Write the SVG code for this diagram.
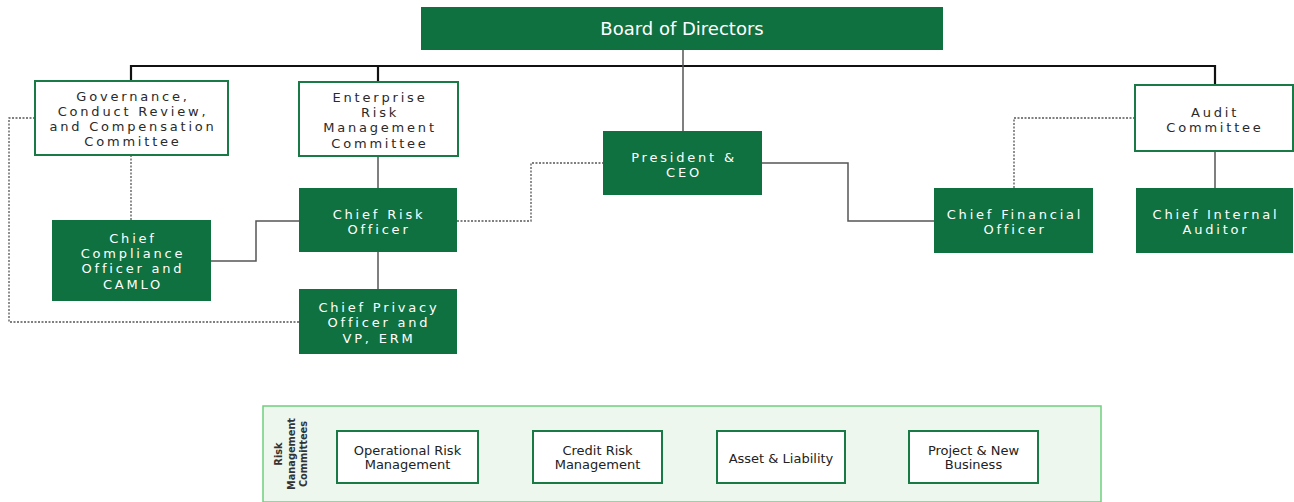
<svg xmlns="http://www.w3.org/2000/svg" width="1294" height="502" viewBox="0 0 1294 502">
  <style>
    .solid { fill: #0f7140; }
    .outline { fill: #ffffff; stroke: #1a7a45; stroke-width: 2; }
    .lbl { font-family: "DejaVu Sans", Verdana, sans-serif; font-size: 13px; letter-spacing: 2.8px; text-anchor: middle; }
    .lw { fill: #ffffff; }
    .ld { fill: #2a2a2a; }
    .sm { font-family: "DejaVu Sans", Verdana, sans-serif; font-size: 13px; text-anchor: middle; fill: #222; }
    .conn { fill: none; stroke: #555; stroke-width: 1.5; }
    .bus { fill: none; stroke: #111; stroke-width: 2.2; }
    .dot { fill: none; stroke: #555; stroke-width: 1.3; stroke-dasharray: 2 1.5; }
  </style>

  <!-- connectors -->
  <g id="connectors">
    <path class="bus" d="M131 81 V66 H1215 V85"/>
    <path class="bus" d="M378 66 V82"/>
    <path class="conn" d="M683 50 V131"/>
    <path class="conn" d="M378 156 V188"/>
    <path class="conn" d="M378 252 V289"/>
    <path class="conn" d="M211 261 H256 V221 H299"/>
    <path class="conn" d="M762 163 H848 V221 H934"/>
    <path class="conn" d="M1215 151 V188"/>
    <path class="dot" d="M35 118 H9 V322 H299"/>
    <path class="dot" d="M131 155 V220"/>
    <path class="dot" d="M457 221 H531 V163 H603"/>
    <path class="dot" d="M1135 118 H1014 V188"/>
  </g>

  <g id="board">
    <rect class="solid" x="421" y="7" width="522" height="43"/>
    <text x="682" y="35" font-family="DejaVu Sans, Verdana, sans-serif" font-size="18" fill="#ffffff" text-anchor="middle">Board of Directors</text>
  </g>

  <g id="governance">
    <rect class="outline" x="35" y="81" width="193" height="74"/>
    <text class="lbl ld"><tspan x="133" y="100.5">Governance,</tspan><tspan x="133" y="115.5">Conduct Review,</tspan><tspan x="133" y="130.5">and Compensation</tspan><tspan x="133" y="146">Committee</tspan></text>
  </g>

  <g id="erm-committee">
    <rect class="outline" x="299" y="82" width="159" height="74"/>
    <text class="lbl ld"><tspan x="380" y="102">Enterprise</tspan><tspan x="380" y="117">Risk</tspan><tspan x="380" y="132">Management</tspan><tspan x="380" y="148">Committee</tspan></text>
  </g>

  <g id="audit-committee">
    <rect class="outline" x="1135" y="85" width="158" height="66"/>
    <text class="lbl ld"><tspan x="1215" y="116.5">Audit</tspan><tspan x="1215" y="131.5">Committee</tspan></text>
  </g>

  <g id="president">
    <rect class="solid" x="603" y="131" width="159" height="64"/>
    <text class="lbl lw"><tspan x="684" y="161.5">President &amp;</tspan><tspan x="684" y="176.5">CEO</tspan></text>
  </g>

  <g id="cro">
    <rect class="solid" x="299" y="188" width="158" height="64"/>
    <text class="lbl lw"><tspan x="379" y="219">Chief Risk</tspan><tspan x="379" y="234">Officer</tspan></text>
  </g>

  <g id="cco">
    <rect class="solid" x="52" y="220" width="159" height="81"/>
    <text class="lbl lw"><tspan x="133" y="243">Chief</tspan><tspan x="133" y="258">Compliance</tspan><tspan x="133" y="273">Officer and</tspan><tspan x="133" y="289">CAMLO</tspan></text>
  </g>

  <g id="cpo">
    <rect class="solid" x="299" y="289" width="158" height="65"/>
    <text class="lbl lw"><tspan x="379" y="312">Chief Privacy</tspan><tspan x="379" y="327">Officer and</tspan><tspan x="379" y="342.5">VP, ERM</tspan></text>
  </g>

  <g id="cfo">
    <rect class="solid" x="934" y="188" width="159" height="65"/>
    <text class="lbl lw"><tspan x="1015" y="219">Chief Financial</tspan><tspan x="1015" y="234">Officer</tspan></text>
  </g>

  <g id="cia">
    <rect class="solid" x="1136" y="188" width="157" height="65"/>
    <text class="lbl lw"><tspan x="1216" y="219">Chief Internal</tspan><tspan x="1216" y="234">Auditor</tspan></text>
  </g>

  <!-- risk management committees panel -->
  <g id="risk-committees">
    <rect x="263" y="406" width="838" height="96" fill="#edf7ee" stroke="#6fcf7f" stroke-width="1.5"/>
    <text transform="translate(291 454) rotate(-90)" font-family="DejaVu Sans, Verdana, sans-serif" font-size="9.8" font-weight="bold" fill="#333" text-anchor="middle"><tspan x="0" y="-9.5">Risk</tspan><tspan x="0" y="4">Management</tspan><tspan x="0" y="15.5">Committees</tspan></text>
  </g>

  <g id="operational-risk">
    <rect class="outline" x="337" y="431" width="141" height="52"/>
    <text class="sm"><tspan x="407.5" y="455">Operational Risk</tspan><tspan x="407.5" y="469">Management</tspan></text>
  </g>

  <g id="credit-risk">
    <rect class="outline" x="533" y="431" width="129" height="52"/>
    <text class="sm"><tspan x="597.5" y="455">Credit Risk</tspan><tspan x="597.5" y="469">Management</tspan></text>
  </g>

  <g id="asset-liability">
    <rect class="outline" x="717" y="431" width="128" height="52"/>
    <text class="sm" x="781" y="463">Asset &amp; Liability</text>
  </g>

  <g id="project-new-business">
    <rect class="outline" x="909" y="431" width="129" height="52"/>
    <text class="sm"><tspan x="973.5" y="455">Project &amp; New</tspan><tspan x="973.5" y="469">Business</tspan></text>
  </g>
</svg>
